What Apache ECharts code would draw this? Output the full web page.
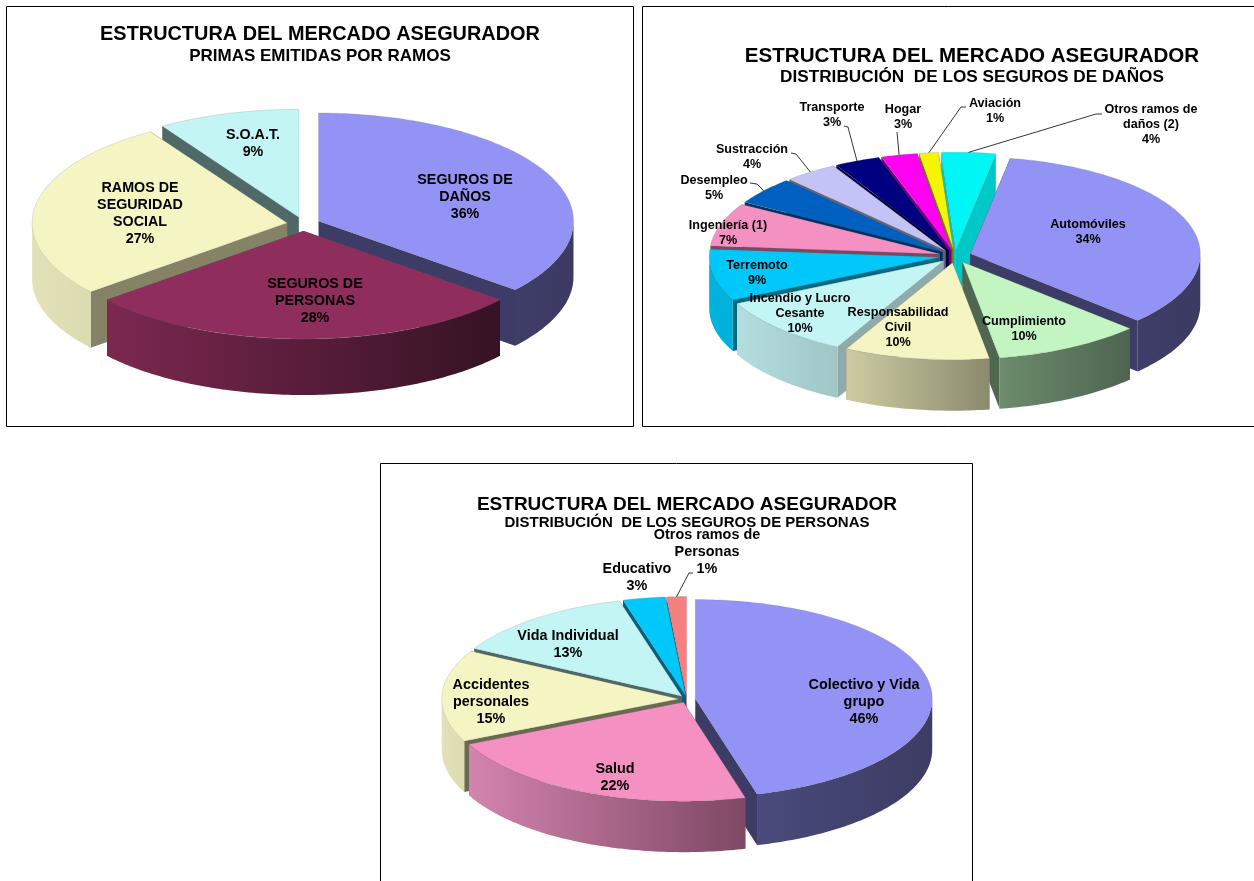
<!DOCTYPE html>
<html>
<head>
<meta charset="utf-8">
<title>Estructura del mercado asegurador</title>
<style>
  html, body { margin: 0; padding: 0; background: #fff; overflow: hidden; }
  #chart { width: 1254px; height: 881px; }
</style>
<script src="https://cdn.jsdelivr.net/npm/echarts@6/dist/echarts.min.js"></script>
</head>
<body>
<div id="chart"></div>
<script>
// datos
const ramosNames = ['SEGUROS DE\nDAÑOS', 'SEGUROS DE\nPERSONAS', 'RAMOS DE\nSEGURIDAD\nSOCIAL', 'S.O.A.T.'];
const ramosValues = [36, 28, 27, 9];

const danosNames = ['Automóviles', 'Cumplimiento', 'Responsabilidad\nCivil', 'Incendio y Lucro\nCesante', 'Terremoto',
  'Ingeniería (1)', 'Desempleo', 'Sustracción', 'Transporte', 'Hogar', 'Aviación', 'Otros ramos de\ndaños (2)'];
const danosValues = [34.25, 10.4, 10.2, 10.1, 8.6, 7.2, 4.6, 3.75, 3.2, 2.55, 1.35, 3.8];

const personasNames = ['Colectivo y Vida\ngrupo', 'Salud', 'Accidentes\npersonales', 'Vida Individual', 'Educativo', 'Otros ramos de\nPersonas'];
const personasValues = [45.8, 22.2, 15, 12.75, 2.9, 1.35];

// colores: tapa, cara radial, pared exterior (izq, der)
const ramosColors = [
  ['#9393f5', '#3c3c66', '#3e3e6a', '#3a3a62'],
  ['#8f2d5c', '#3c1428', '#7c2850', '#351224'],
  ['#f5f5c3', '#858266', '#e2e1b8', '#dcdbb0'],
  ['#c3f5f5', '#4f6868', '#c3f5f5', '#c3f5f5']
];
const danosColors = [
  ['#9393f5', '#3c3c66', '#3e3e6a', '#3a3a62'],
  ['#c3f5c3', '#4f6650', '#6c8c6c', '#4e6450'],
  ['#f5f5c3', '#8a8870', '#cdcca2', '#8c8a6e'],
  ['#c3f5f5', '#8fabab', '#b4dede', '#a0c6c6'],
  ['#00c8fa', '#046a80', '#00b4de', '#00b0dc'],
  ['#f590c3', '#7a4862', '#f590c3', '#f590c3'],
  ['#0060c0', '#003060', '#0060c0', '#0060c0'],
  ['#c3c3f5', '#62627c', '#c3c3f5', '#c3c3f5'],
  ['#000080', '#000040', '#000080', '#000080'],
  ['#ff00f0', '#7a0078', '#ff00f0', '#ff00f0'],
  ['#f5f500', '#7a7a00', '#f5f500', '#f5f500'],
  ['#00f5f5', '#00c8c8', '#00f5f5', '#00f5f5']
];
const personasColors = [
  ['#9393f5', '#3c3c66', '#4a4a7c', '#3c3c64'],
  ['#f590c3', '#7a4862', '#d484ae', '#7e4864'],
  ['#f5f5c3', '#6a6a50', '#e2e1b8', '#dcdbb0'],
  ['#c3f5f5', '#4f6868', '#c3f5f5', '#c3f5f5'],
  ['#00c8fa', '#006080', '#00c8fa', '#00c8fa'],
  ['#f58080', '#7a4040', '#f58080', '#f58080']
];

const FONT = '"Liberation Sans", Arial, sans-serif';

// geometria de cada torta: centro, radios, profundidad, explosion
const pies = [
  {
    names: ramosNames, values: ramosValues, colors: ramosColors,
    cx: 303.5, cy: 224, rx: 255, ry: 108, depth: 56, explode: 0.065, startAngle: 0,
    fontSize: 14.3, lineHeight: 17,
    labels: [[465, 197], [315, 301], [140, 214], [253, 144]],
    leaders: {}
  },
  {
    names: danosNames, values: danosValues, colors: danosColors,
    cx: 955, cy: 256, rx: 230, ry: 97, depth: 51, explode: 0.07, startAngle: 10,
    fontSize: 12.6, lineHeight: 15,
    labels: [[1088, 232], [1024, 329], [898, 328], [800, 314], [757, 273], [728, 233], [714, 188], [752, 157], [832, 115], [903, 117], [995, 111], [1151, 125]],
    leaders: {
      6: [[750, 183], [757, 184]],
      7: [[791, 153], [796, 154]],
      8: [[844, 126], [848, 127]],
      9: [[897, 132]],
      10: [[966, 107], [961, 107]],
      11: [[1102, 114], [1096, 114]]
    }
  },
  {
    names: personasNames, values: personasValues, colors: personasColors,
    cx: 687, cy: 699, rx: 237, ry: 99, depth: 51, explode: 0.035, startAngle: 0,
    fontSize: 14.4, lineHeight: 17,
    labels: [[864, 702], [615, 778], [491, 702], [568, 645], [637, 578], [707, 552]],
    leaders: { 5: [[693, 573], [689, 573]] }
  }
];

const frames = [
  [6.5, 6.5, 627, 420],
  [642.5, 6.5, 640, 420],
  [380.5, 463.5, 592, 440]
];

const titles = [
  ['ESTRUCTURA DEL MERCADO ASEGURADOR', 320, 25, 19.9],
  ['PRIMAS EMITIDAS POR RAMOS', 320, 47.5, 17],
  ['ESTRUCTURA DEL MERCADO ASEGURADOR', 972, 45.5, 20.55],
  ['DISTRIBUCIÓN  DE LOS SEGUROS DE DAÑOS', 972, 68.5, 17.2],
  ['ESTRUCTURA DEL MERCADO ASEGURADOR', 687, 495, 19],
  ['DISTRIBUCIÓN  DE LOS SEGUROS DE PERSONAS', 687, 515.5, 15]
];

const rad = a => a * Math.PI / 180;

// punto sobre la elipse, angulo en grados desde las 12 en sentido horario
function ellipsePoint(c, pie, a) {
  return [c[0] + pie.rx * Math.sin(rad(a)), c[1] - pie.ry * Math.cos(rad(a))];
}

function arcPoints(c, pie, a0, a1) {
  const pts = [];
  const n = Math.max(2, Math.ceil(Math.abs(a1 - a0)));
  for (let i = 0; i <= n; i++) pts.push(ellipsePoint(c, pie, a0 + (a1 - a0) * i / n));
  return pts;
}

function down(points, depth) {
  return points.map(p => [p[0], p[1] + depth]);
}

function wallGradient(left, right) {
  return new echarts.graphic.LinearGradient(0, 0, 1, 0, [
    { offset: 0, color: left },
    { offset: 1, color: right }
  ]);
}

function buildSeries(pie) {
  const total = pie.values.reduce((s, v) => s + v, 0);
  let acc = pie.startAngle;
  const slices = pie.values.map((v, i) => {
    const a0 = acc;
    const a1 = acc + v / total * 360;
    acc = a1;
    return { value: [v, a0, a1, i], mid: (a0 + a1) / 2 };
  });
  // de atras hacia adelante
  const ordered = slices.slice().sort((a, b) => -Math.cos(rad(a.mid)) + Math.cos(rad(b.mid)));

  const centerOf = mid => [
    pie.cx + pie.explode * pie.rx * Math.sin(rad(mid)),
    pie.cy - pie.explode * pie.ry * Math.cos(rad(mid))
  ];

  return {
    type: 'custom',
    coordinateSystem: 'none',
    silent: true,
    animation: false,
    data: ordered.map(s => s.value),
    renderItem(params, api) {
      const v = api.value(0);
      const a0 = api.value(1);
      const a1 = api.value(2);
      const i = api.value(3);
      const mid = (a0 + a1) / 2;
      const c = centerOf(mid);
      const col = pie.colors[i];
      const base = params.dataIndex * 5;
      const children = [];

      // caras radiales
      [a0, a1].forEach(a => {
        const e = ellipsePoint(c, pie, a);
        children.push({
          type: 'polygon', z2: base,
          shape: { points: [c, e, [e[0], e[1] + pie.depth], [c[0], c[1] + pie.depth]] },
          style: { fill: col[1] }
        });
      });

      // pared exterior, solo la mitad delantera
      const w0 = Math.max(a0, 90);
      const w1 = Math.min(a1, 270);
      if (w1 > w0) {
        const arc = arcPoints(c, pie, w0, w1);
        children.push({
          type: 'polygon', z2: base + 1,
          shape: { points: arc.concat(down(arc, pie.depth).reverse()) },
          style: { fill: wallGradient(col[2], col[3]) }
        });
      }

      // tapa
      children.push({
        type: 'polygon', z2: base + 2,
        shape: { points: [c].concat(arcPoints(c, pie, a0, a1)) },
        style: { fill: col[0], stroke: 'rgba(120,120,120,0.35)', lineWidth: 0.6 }
      });

      // linea guia
      const leader = pie.leaders[i];
      if (leader) {
        children.push({
          type: 'polyline', z2: 1000,
          shape: { points: leader.concat([ellipsePoint(c, pie, mid)]) },
          style: { fill: 'none', stroke: '#000', lineWidth: 0.8 }
        });
      }

      // etiqueta
      const pos = pie.labels[i];
      children.push({
        type: 'text', z2: 1001,
        style: {
          text: pie.names[i] + '\n' + Math.round(v / total * 100) + '%',
          x: pos[0], y: pos[1],
          align: 'center', verticalAlign: 'middle',
          fontFamily: FONT, fontWeight: 'bold',
          fontSize: pie.fontSize, lineHeight: pie.lineHeight,
          fill: '#000'
        }
      });

      return { type: 'group', children };
    }
  };
}

const chart = echarts.init(document.getElementById('chart'), null, { renderer: 'canvas' });
chart.setOption({
  animation: false,
  backgroundColor: '#fff',
  title: titles.map(t => ({
    text: t[0],
    left: t[1],
    top: t[2],
    padding: 0,
    textAlign: 'center',
    textStyle: { fontFamily: FONT, fontWeight: 'bold', fontSize: t[3], color: '#000' }
  })),
  graphic: frames.map(f => ({
    type: 'rect',
    silent: true,
    z: -1,
    shape: { x: f[0], y: f[1], width: f[2], height: f[3] },
    style: { fill: '#fff', stroke: '#000', lineWidth: 1 }
  })),
  series: pies.map(buildSeries)
});
</script>
</body>
</html>
